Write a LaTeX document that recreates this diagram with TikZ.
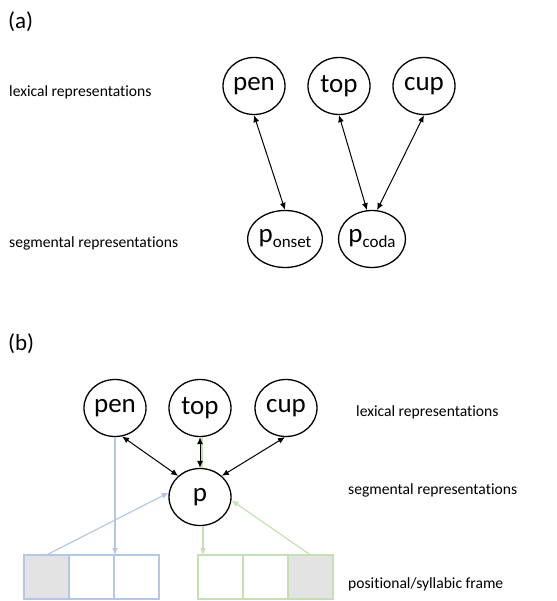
\documentclass[tikz,border=0pt]{standalone}
\usepackage{fontspec}
\setmainfont{Carlito}[Ligatures=NoCommon]
\usetikzlibrary{arrows.meta,shapes.geometric}
\definecolor{frameblue}{HTML}{B4C7E7}
\definecolor{framegreen}{HTML}{C5E0B4}
\definecolor{slotgray}{HTML}{E3E3E3}
\newcommand{\sub}[1]{\raisebox{-5pt}{\fontsize{17}{17}\selectfont #1}}
\begin{document}
\begin{tikzpicture}[x=1pt,y=-1pt,
  word/.style={ellipse, draw, line width=1.3pt, minimum width=62pt, minimum height=57pt, inner sep=0pt, fill=white, font=\fontsize{27}{27}\selectfont},
  lab/.style={anchor=west, inner sep=0pt, font=\fontsize{15.6}{18}\selectfont},
  panel/.style={anchor=north west, inner sep=0pt, font=\fontsize{23}{26}\selectfont},
  link/.style={line width=1pt, {Latex[length=7pt,width=6pt]}-{Latex[length=7pt,width=6pt]}},
  slot/.style={rectangle, draw, line width=1.3pt, minimum width=45pt, minimum height=44pt, inner sep=0pt, outer sep=0pt},
  feed/.style={line width=1.2pt, -{Latex[length=7pt,width=6pt]}}]
\useasboundingbox (0,0) rectangle (556,601);
\node[panel] (la) at (8,11){(a)};
\node[lab] (lexa) at (9,92){lexical representations};
\node[lab] (sega) at (9,243){segmental representations};
\node[word] (pena) at (254,86){pen};
\node[word] (topa) at (339,86){top};
\node[word] (cupa) at (424,86){cup};
\node[word] (onset) at (285,239){p\sub{onset}};
\node[word] (coda) at (372,239){p\sub{coda}};
\draw[link](pena.south) -- (onset.north);
\draw[link](topa.south) -- (coda.100);
\draw[link](cupa.south) -- (coda.80);
\node[panel] (lb) at (8,333){(b)};
\node[lab] (lexb) at (356,412){lexical representations};
\node[lab] (segb) at (348,490){segmental representations};
\node[lab] (frm) at (348,584){positional/syllabic frame};
\node[slot, draw=frameblue, fill=slotgray] (b1) at (46.5,577){};
\node[slot, draw=frameblue] (b2) at (91.5,577){};
\node[slot, draw=frameblue] (b3) at (136.5,577){};
\node[slot, draw=framegreen] (g1) at (220.5,577){};
\node[slot, draw=framegreen] (g2) at (265.5,577){};
\node[slot, draw=framegreen, fill=slotgray] (g3) at (310.5,577){};
\node[word] (penb) at (115,408){pen};
\node[word] (topb) at (200,408){top};
\node[word] (cupb) at (286,408){cup};
\node[word] (p) at (200,497){p};
\draw[feed, draw=frameblue](penb.south) -- (penb.south |- b3.north);
\draw[feed, draw=frameblue](b1.north) -- (p.172);
\draw[feed, draw=framegreen](g3.north) -- (p.-6);
\draw[line width=1.2pt, framegreen]([xshift=2pt]topb.south) -- ([xshift=2pt]p.north);
\draw[feed, draw=framegreen]([xshift=3pt]p.south) -- ([xshift=3pt]p.south |- g1.north);
\draw[link](penb.-76) -- (p.136);
\draw[link](topb.south) -- (p.north);
\draw[link](cupb.-92) -- (p.44);
\end{tikzpicture}
\end{document}
